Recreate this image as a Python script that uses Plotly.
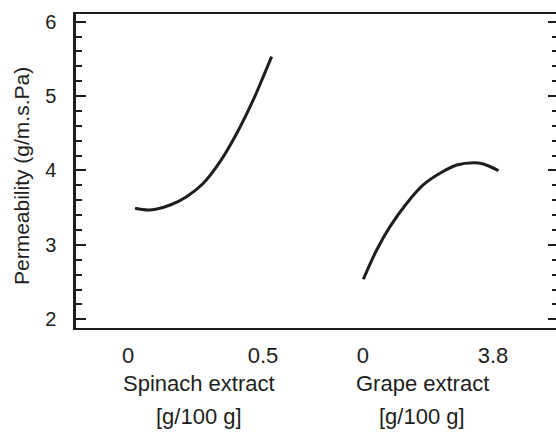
import plotly.graph_objects as go

# Data
spinach_x = [0.026, 0.081, 0.156, 0.217, 0.279, 0.341, 0.403, 0.464, 0.501, 0.532]
spinach_y = [3.492, 3.469, 3.536, 3.648, 3.828, 4.118, 4.500, 4.948, 5.261, 5.530]
grape_x = [0.01, 0.40, 0.79, 1.28, 1.76, 2.25, 2.74, 3.23, 3.52, 3.96]
grape_y = [2.538, 2.931, 3.245, 3.559, 3.805, 3.962, 4.073, 4.105, 4.087, 3.997]

spinach_ticks = [0, 0.5]
spinach_ticktext = ["0", "0.5"]
grape_ticks = [0, 3.8]
grape_ticktext = ["0", "3.8"]

y_title = "Permeability (g/m.s.Pa)"
spinach_label = "Spinach extract"
grape_label = "Grape extract"
unit_label = "[g/100 g]"

FONT = "Arial, Liberation Sans, Helvetica, sans-serif"
INK = "#1e1e1e"
Y_RANGE = [1.883, 6.103]

fig = go.Figure()
fig.add_trace(go.Scatter(x=spinach_x, y=spinach_y, mode="lines", line=dict(color=INK, width=3, shape="spline"),
                         xaxis="x", yaxis="y", showlegend=False))
fig.add_trace(go.Scatter(x=grape_x, y=grape_y, mode="lines", line=dict(color=INK, width=3, shape="spline"),
                         xaxis="x2", yaxis="y2", showlegend=False))

xcommon = dict(showline=True, mirror=True, linecolor=INK, linewidth=2, ticks="", showgrid=False,
               zeroline=False, tickfont=dict(family=FONT, size=22, color=INK), ticklabelstandoff=7,
               fixedrange=True, tickmode="array")

fig.update_layout(
    width=556, height=437,
    margin=dict(l=76, r=0, t=14, b=109),
    paper_bgcolor="white", plot_bgcolor="white",
    font=dict(family=FONT, color=INK),
    xaxis=dict(domain=[0, 0.5], range=[-0.1926, 0.6963], anchor="y",
               tickvals=spinach_ticks, ticktext=spinach_ticktext, **xcommon),
    xaxis2=dict(domain=[0.5, 1], range=[-1.374, 5.643], anchor="y",
                tickvals=grape_ticks, ticktext=grape_ticktext, **xcommon),
    yaxis=dict(range=Y_RANGE, anchor="x", showline=True, linecolor=INK, linewidth=2.5,
               ticks="inside", ticklen=10, tickwidth=2, tickcolor=INK, dtick=1, tick0=0,
               minor=dict(ticks="inside", ticklen=6, tickwidth=2, tickcolor=INK, dtick=0.2),
               showgrid=False, zeroline=False, tickfont=dict(family=FONT, size=20, color=INK),
               ticklabelstandoff=13),
    yaxis2=dict(range=Y_RANGE, overlaying="y", side="right", anchor="x2",
                showline=False,
                ticks="inside", ticklen=8, tickwidth=2, tickcolor=INK, dtick=1, tick0=0,
                minor=dict(ticks="inside", ticklen=4, tickwidth=2, tickcolor=INK, dtick=0.2),
                showticklabels=False, showgrid=False, zeroline=False),
)

annots = [
    dict(text=y_title, xref="paper", yref="paper", x=-0.1146, y=0.484, textangle=-90,
         font=dict(size=21)),
    dict(text=spinach_label, xref="x domain", yref="paper", x=0.5125, y=-0.178, font=dict(size=22)),
    dict(text=unit_label, xref="x domain", yref="paper", x=0.5125, y=-0.283, font=dict(size=22)),
    dict(text=grape_label, xref="x2 domain", yref="paper", x=0.442, y=-0.178, font=dict(size=22)),
    dict(text=unit_label, xref="x2 domain", yref="paper", x=0.442, y=-0.283, font=dict(size=22)),
]
for a in annots:
    a.update(showarrow=False, xanchor="center", yanchor="middle")
    a["font"].update(family=FONT, color=INK)
    fig.add_annotation(**a)

fig.write_html("out.html")
